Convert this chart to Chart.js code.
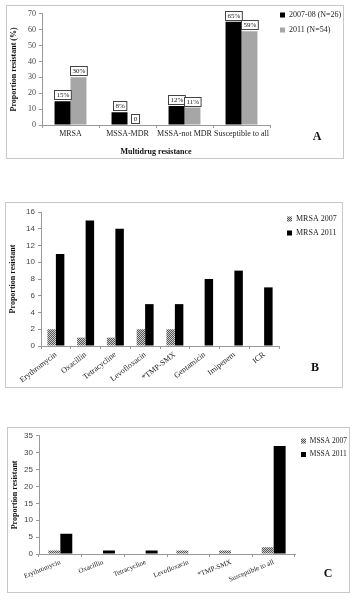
<!DOCTYPE html>
<html><head><meta charset="utf-8">
<script src="https://cdn.jsdelivr.net/npm/chart.js@4/dist/chart.umd.min.js"></script>
<style>
html,body{margin:0;padding:0;background:#fff;width:356px;height:600px;overflow:hidden;}
.panel{position:absolute;border:1px solid #c8c8c8;box-sizing:border-box;background:#fff;}
canvas{display:block;}
</style></head><body>
<div class="panel" style="left:6px;top:5px;width:338px;height:154px"><canvas id="cA" width="336" height="152"></canvas></div>
<div class="panel" style="left:5px;top:202px;width:338px;height:186px"><canvas id="cB" width="336" height="184"></canvas></div>
<div class="panel" style="left:7px;top:427px;width:343px;height:166px"><canvas id="cC" width="341" height="164"></canvas></div>
<script>
// ---------- data ----------
const catsA = ['MRSA', 'MSSA-MDR', 'MSSA-not MDR', 'Susceptible to all'];
const valsA0708 = [15, 8, 12, 65];
const valsA2011 = [30, 0, 11, 59];
const lblsA0708 = ['15%', '8%', '12%', '65%'];
const lblsA2011 = ['30%', '0', '11%', '59%'];
const legendA = ['2007-08 (N=26)', '2011 (N=54)'];

const catsB = ['Erythromycin', 'Oxacillin', 'Tetracycline', 'Levofloxacin', '*TMP-SMX', 'Gentamicin', 'Imipenem', 'ICR'];
const valsMRSA2007 = [2, 1, 1, 2, 2, 0, 0, 0];
const valsMRSA2011 = [11, 15, 14, 5, 5, 8, 9, 7];

const catsC = ['Erythromycin', 'Oxacillin', 'Tetracycline', 'Levofloxacin', '*TMP-SMX', 'Susceptible to all'];
const valsMSSA2007 = [1, 0, 0, 1, 1, 2];
const valsMSSA2011 = [6, 1, 1, 0, 0, 32];

// ---------- helpers ----------
function hatch() {
  const c = document.createElement('canvas');
  c.width = 2; c.height = 2;
  const g = c.getContext('2d');
  g.fillStyle = '#d0d0d0'; g.fillRect(0, 0, 2, 2);
  g.fillStyle = '#555'; g.fillRect(0, 0, 1, 1); g.fillRect(1, 1, 1, 1);
  return g.createPattern(c, 'repeat');
}
const SERIF = '"Liberation Serif", "Times New Roman", serif';
const SANS = '"Liberation Sans", Arial, sans-serif';

const legendNudge = {
  id: 'legendNudge',
  afterLayout(chart, args, o) {
    const lg = chart.legend;
    if (!lg || o.x == null) return;
    const pad = lg.options.labels.padding;
    const fs = lg.options.labels.font.size;
    const w = lg.width, h = lg.height;
    lg.left = o.x - pad; lg.right = lg.left + w;
    lg.top = o.y - fs / 2 - pad; lg.bottom = lg.top + h + 40;
  }
};
const panelLetter = {
  id: 'panelLetter',
  afterDraw(chart, args, o) {
    if (!o.text) return;
    const ctx = chart.ctx;
    ctx.save();
    ctx.font = 'bold 12px ' + SERIF;
    ctx.fillStyle = '#111';
    ctx.textAlign = 'center'; ctx.textBaseline = 'middle';
    ctx.fillText(o.text, o.x, o.y);
    ctx.restore();
  }
};
const boxLabels = {
  id: 'boxLabels',
  afterDatasetsDraw(chart, args, o) {
    if (!o.labels) return;
    const ctx = chart.ctx;
    ctx.save();
    ctx.font = '7px ' + SERIF;
    ctx.textAlign = 'center'; ctx.textBaseline = 'middle';
    o.labels.forEach((arr, di) => {
      const meta = chart.getDatasetMeta(di);
      meta.data.forEach((el, i) => {
        const t = arr[i];
        const w = Math.max(ctx.measureText(t).width + 4, 8);
        const h = 9;
        const x = Math.round(el.x - w / 2) + 0.5;
        const y = Math.round(el.y - 2 - h) + 0.5;
        ctx.fillStyle = '#fff';
        ctx.fillRect(x, y, w, h);
        ctx.strokeStyle = '#444'; ctx.lineWidth = 1;
        ctx.strokeRect(x, y, w, h);
        ctx.fillStyle = '#222';
        ctx.fillText(t, x + w / 2, y + h / 2 + 0.5);
      });
    });
    ctx.restore();
  }
};
Chart.register(legendNudge, panelLetter, boxLabels);

function makeChart(id, cfg) {
  const grid = { display: true, drawOnChartArea: false, drawTicks: true, tickLength: 3, color: '#999' };
  const border = { display: true, color: '#999' };
  return new Chart(document.getElementById(id), {
    type: 'bar',
    data: { labels: cfg.cats, datasets: cfg.datasets },
    options: {
      responsive: false, animation: false, devicePixelRatio: 1,
      layout: { padding: cfg.padding },
      plugins: {
        tooltip: { enabled: false },
        legend: {
          position: 'chartArea', align: 'start',
          labels: { boxWidth: 5, boxHeight: 5, padding: cfg.legendGap, color: '#222', font: { family: SERIF, size: cfg.legendFs } }
        },
        legendNudge: cfg.legendPos,
        panelLetter: cfg.letter,
        boxLabels: { labels: cfg.boxLabels || null }
      },
      scales: {
        x: {
          grid: Object.assign({}, grid, { offset: true }),
          border,
          ticks: {
            color: '#222', font: { family: SERIF, size: cfg.xFs }, padding: 1,
            autoSkip: false, maxRotation: cfg.rot, minRotation: cfg.rot
          },
          title: cfg.xTitle ? { display: true, text: cfg.xTitle, color: '#111', font: { family: SERIF, size: 8, weight: 'bold' }, padding: { top: 0, bottom: 1 } } : { display: false },
          afterFit(s) { s.height = cfg.xH; s.paddingLeft = 0; s.paddingRight = 0; }
        },
        y: {
          min: 0, max: cfg.yMax,
          grid, border,
          ticks: { stepSize: cfg.yStep, color: '#444', font: { family: cfg.yFont, size: 8 }, padding: 3 },
          title: { display: true, text: cfg.yTitle, color: '#111', font: { family: SERIF, size: 8, weight: 'bold' }, padding: { top: 2, bottom: 0 } },
          afterFit(s) { s.width = cfg.yW; }
        }
      }
    }
  });
}

// Panel A (canvas origin page 7,6)
makeChart('cA', {
  cats: catsA,
  datasets: [
    { label: legendA[0], data: valsA0708, backgroundColor: '#000', borderWidth: 0, categoryPercentage: 0.56, barPercentage: 1 },
    { label: legendA[1], data: valsA2011, backgroundColor: '#a6a6a6', borderWidth: 0, categoryPercentage: 0.56, barPercentage: 1 }
  ],
  padding: { left: 0, top: 7, right: 73, bottom: 0 },
  legendGap: 7, legendFs: 8, legendPos: { x: 273, y: 9 },
  letter: { text: 'A', x: 310, y: 131 },
  boxLabels: [lblsA0708, lblsA2011],
  rot: 0, xFs: 8, xH: 33, xTitle: 'Multidrug resistance',
  yMax: 70, yStep: 10, yFont: SERIF, yTitle: 'Proportion resistant (%)', yW: 35
});

// Panel B (canvas origin page 6,203)
makeChart('cB', {
  cats: catsB,
  datasets: [
    { label: 'MRSA 2007', data: valsMRSA2007, backgroundColor: hatch(), borderWidth: 0, categoryPercentage: 0.57, barPercentage: 1 },
    { label: 'MRSA 2011', data: valsMRSA2011, backgroundColor: '#000', borderWidth: 0, categoryPercentage: 0.57, barPercentage: 1 }
  ],
  padding: { left: 0, top: 9, right: 63, bottom: 0 },
  legendGap: 6, legendFs: 8, legendPos: { x: 281, y: 16 },
  letter: { text: 'B', x: 309, y: 165 },
  rot: 38, xFs: 8, xH: 41,
  yMax: 16, yStep: 2, yFont: SANS, yTitle: 'Proportion resistant', yW: 35
});

// Panel C (canvas origin page 8,428)
makeChart('cC', {
  cats: catsC,
  datasets: [
    { label: 'MSSA 2007', data: valsMSSA2007, backgroundColor: hatch(), borderWidth: 0, categoryPercentage: 0.56, barPercentage: 1 },
    { label: 'MSSA 2011', data: valsMSSA2011, backgroundColor: '#000', borderWidth: 0, categoryPercentage: 0.56, barPercentage: 1 }
  ],
  padding: { left: 0, top: 6, right: 54, bottom: 0 },
  legendGap: 6, legendFs: 7.5, legendPos: { x: 293, y: 13 },
  letter: { text: 'C', x: 320, y: 146 },
  rot: 22, xFs: 7, xH: 38,
  yMax: 35, yStep: 5, yFont: SANS, yTitle: 'Proportion resistant', yW: 31
});
</script>
</body></html>
